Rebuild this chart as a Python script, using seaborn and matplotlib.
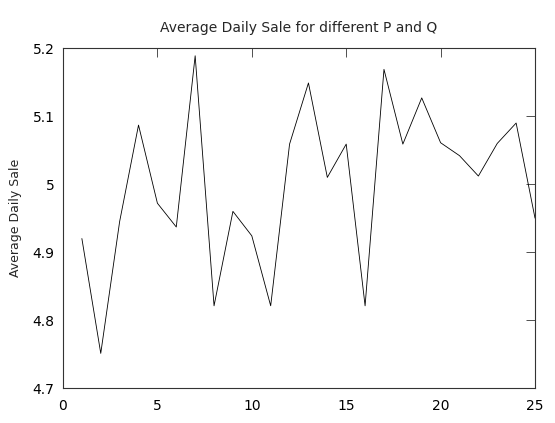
import pandas as pd
import matplotlib
matplotlib.use("Agg")
import matplotlib.pyplot as plt
import seaborn as sns

# values
day_index = list(range(1, 26))
avg_daily_sale = [4.920, 4.751, 4.945, 5.087, 4.972, 4.937, 5.189, 4.821, 4.960, 4.924,
                  4.821, 5.059, 5.149, 5.010, 5.059, 4.821, 5.169, 5.059, 5.127, 5.061,
                  5.042, 5.012, 5.060, 5.090, 4.950]
x_ticks = [0, 5, 10, 15, 20, 25]
y_ticks = [4.7, 4.8, 4.9, 5.0, 5.1, 5.2]
y_tick_labels = ["4.7", "4.8", "4.9", "5", "5.1", "5.2"]

data = pd.DataFrame({"pq": day_index, "sale": avg_daily_sale})

sns.set_style("white")
plt.rcParams["font.family"] = ["DejaVu Sans"]

fig = plt.figure(figsize=(5.55, 4.23), dpi=100)
ax = fig.add_axes([0.1135, 0.0827, 0.8505, 0.8031])

sns.lineplot(x="pq", y="sale", data=data, color="black", linewidth=0.6, ax=ax)

ax.set_xlim(0, 25)
ax.set_ylim(4.7, 5.2)
ax.set_xticks(x_ticks)
ax.set_yticks(y_ticks)
ax.set_yticklabels(y_tick_labels)
ax.tick_params(direction="in", length=6.5, width=0.6, color="#333333",
               top=True, right=True, labelsize=10, labelcolor="black", pad=8)
ax.tick_params(axis="y", pad=6)

for spine in ax.spines.values():
    spine.set_color("#333333")
    spine.set_linewidth(0.8)

ax.set_title("Average Daily Sale for different P and Q", fontsize=10, pad=12)
ax.set_xlabel("")
ax.set_ylabel("Average Daily Sale", fontsize=9, labelpad=8)

fig.savefig("out.png", dpi=100)
